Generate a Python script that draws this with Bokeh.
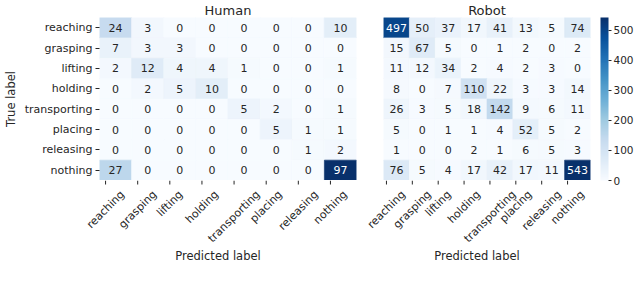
import math
from bokeh.plotting import figure
from bokeh.models import (ColumnDataSource, LinearColorMapper, ColorBar,
                          FixedTicker, Range1d)
from bokeh.layouts import row, column
from bokeh.palettes import Blues256
from bokeh.transform import transform
from bokeh.core.properties import value
from bokeh.embed import file_html
from bokeh.resources import INLINE

classes = ["reaching", "grasping", "lifting", "holding",
           "transporting", "placing", "releasing", "nothing"]

human = [
    [24, 3, 0, 0, 0, 0, 0, 10],
    [7, 3, 3, 0, 0, 0, 0, 0],
    [2, 12, 4, 4, 1, 0, 0, 1],
    [0, 2, 5, 10, 0, 0, 0, 0],
    [0, 0, 0, 0, 5, 2, 0, 1],
    [0, 0, 0, 0, 0, 5, 1, 1],
    [0, 0, 0, 0, 0, 0, 1, 2],
    [27, 0, 0, 0, 0, 0, 0, 97],
]

robot = [
    [497, 50, 37, 17, 41, 13, 5, 74],
    [15, 67, 5, 0, 1, 2, 0, 2],
    [11, 12, 34, 2, 4, 2, 3, 0],
    [8, 0, 7, 110, 22, 3, 3, 14],
    [26, 3, 5, 18, 142, 9, 6, 11],
    [5, 0, 1, 1, 4, 52, 5, 2],
    [1, 0, 0, 2, 1, 6, 5, 3],
    [76, 5, 4, 17, 42, 17, 11, 543],
]

colorbar_ticks = [0, 100, 200, 300, 400, 500]

FONT = "DejaVu Sans"
TXT = "#262626"
palette = list(Blues256[::-1])  # light -> dark
FRAME_H = 163
STRIP_H = 66
PAD = 9          # extra strip width each side so rotated labels are not clipped
TICK = 4
LABEL_PX = 11

# DejaVu Sans advance widths (units per 2048 em), used to centre rotated labels
ADV = {'a': 1255, 'c': 1126, 'd': 1300, 'e': 1260, 'f': 721, 'g': 1300,
       'h': 1298, 'i': 569, 'l': 569, 'n': 1298, 'o': 1253, 'p': 1300,
       'r': 842, 's': 1067, 't': 803}


def text_w(s, size):
    return sum(ADV.get(c, 1200) for c in s) / 2048 * size


def lum(hexc):
    rgb = [int(hexc[i:i + 2], 16) / 255 for i in (1, 3, 5)]
    lin = [c / 12.92 if c <= 0.03928 else ((c + 0.055) / 1.055) ** 2.4 for c in rgb]
    return 0.2126 * lin[0] + 0.7152 * lin[1] + 0.0722 * lin[2]


def make_source(mat):
    hi = max(max(r) for r in mat)
    xs, ys, vals, tcols = [], [], [], []
    for i, t in enumerate(classes):
        for j, pcls in enumerate(classes):
            v = mat[i][j]
            c = palette[min(255, int(v / hi * 256))]
            xs.append(pcls)
            ys.append(t)
            vals.append(v)
            tcols.append(TXT if lum(c) > 0.408 else "#ffffff")
    src = ColumnDataSource(dict(pred=xs, true=ys, v=vals,
                                label=[str(x) for x in vals], tcol=tcols))
    return src, hi


def style_title(p):
    p.title.align = "center"
    p.title.text_font = FONT
    p.title.text_font_size = "13px"
    p.title.text_font_style = "normal"
    p.title.text_color = TXT
    p.title.standoff = 0
    p.title.offset = 0


def style_axis(ax):
    ax.axis_line_color = None
    ax.major_tick_out = TICK
    ax.major_tick_in = 0
    ax.major_tick_line_color = TXT
    ax.major_label_text_font = FONT
    ax.major_label_text_font_size = "%dpx" % LABEL_PX
    ax.major_label_text_color = TXT
    ax.major_label_standoff = 3
    ax.axis_label_text_font = FONT
    ax.axis_label_text_font_size = "11.5px"
    ax.axis_label_text_font_style = "normal"
    ax.axis_label_text_color = TXT
    ax.axis_label_standoff = 4


def make_fig(mat, title, left, right, width_frame, show_y):
    src, hi = make_source(mat)
    mapper = LinearColorMapper(palette=palette, low=0, high=hi)
    p = figure(x_range=classes, y_range=list(reversed(classes)),
               frame_width=width_frame, frame_height=FRAME_H,
               min_border_left=left, min_border_right=right,
               min_border_top=12, min_border_bottom=0,
               x_axis_location=None,
               output_backend="svg", toolbar_location=None, title=title)
    p.rect(x="pred", y="true", width=1, height=1, source=src,
           fill_color=transform("v", mapper), line_color=transform("v", mapper),
           line_width=0.6)
    p.text(x="pred", y="true", text="label", source=src,
           text_align="center", text_baseline="middle",
           text_font_size="11px", text_color="tcol", text_font=value(FONT))
    style_title(p)
    p.grid.visible = False
    p.outline_line_color = None
    if show_y:
        style_axis(p.yaxis)
        p.yaxis.axis_label = "True label"
    else:
        p.yaxis.visible = False

    # strip below the heatmap: tick marks and rotated, centred tick labels
    n = len(classes)
    cell = width_frame / n
    pad_u = PAD / cell
    s = figure(x_range=Range1d(-pad_u, n + pad_u), y_range=Range1d(-STRIP_H, 0),
               frame_width=width_frame + 2 * PAD, frame_height=STRIP_H,
               min_border_left=left - PAD, min_border_right=max(0, right - PAD),
               min_border_top=0, min_border_bottom=2,
               y_axis_location=None, output_backend="svg",
               toolbar_location=None)
    s.grid.visible = False
    s.outline_line_color = None
    style_axis(s.xaxis)
    s.xaxis.ticker = FixedTicker(ticks=[])
    s.xaxis.major_tick_out = 0
    s.xaxis.axis_label_standoff = 2
    s.xaxis.axis_label = "Predicted label"

    pos = [i + 0.5 for i in range(n)]
    h = 1.164 * LABEL_PX
    ycen = [-(TICK + 3.5 + 0.3536 * (text_w(c, LABEL_PX) + h)) for c in classes]
    lsrc = ColumnDataSource(dict(x=pos, y=ycen, text=classes,
                                 y0=[0] * n, y1=[-TICK] * n))
    s.segment(x0="x", y0="y0", x1="x", y1="y1", source=lsrc,
              line_color=TXT, line_width=1)
    s.text(x="x", y="y", text="text", source=lsrc, angle=math.pi / 4,
           text_align="center", text_baseline="middle",
           text_font=value(FONT), text_font_size="%dpx" % LABEL_PX,
           text_color=TXT)
    return p, s, mapper


ph, sh, _ = make_fig(human, "Human", 89, 9, 257, True)
pr, sr, mapper_r = make_fig(robot, "Robot", 18, 8, 207, False)

# narrow holder figure for the colour bar
pc = figure(frame_width=1, frame_height=FRAME_H, min_border_left=1,
            min_border_right=0, min_border_top=12, min_border_bottom=8,
            x_axis_location=None, y_axis_location=None, title=" ",
            output_backend="svg", toolbar_location=None)
style_title(pc)
pc.grid.visible = False
pc.outline_line_color = None

cb = ColorBar(color_mapper=mapper_r, ticker=FixedTicker(ticks=colorbar_ticks),
              width=8, margin=0, padding=0, label_standoff=2,
              major_tick_out=3, major_tick_in=0, major_tick_line_color=TXT,
              major_label_text_font=FONT, major_label_text_font_size="10.5px",
              major_label_text_color=TXT, bar_line_color=None,
              border_line_color=None, background_fill_alpha=0)
pc.add_layout(cb, "right")

layout = row(column(row(ph, pr), row(sh, sr)), pc)
open("out.html", "w").write(file_html(layout, INLINE))
